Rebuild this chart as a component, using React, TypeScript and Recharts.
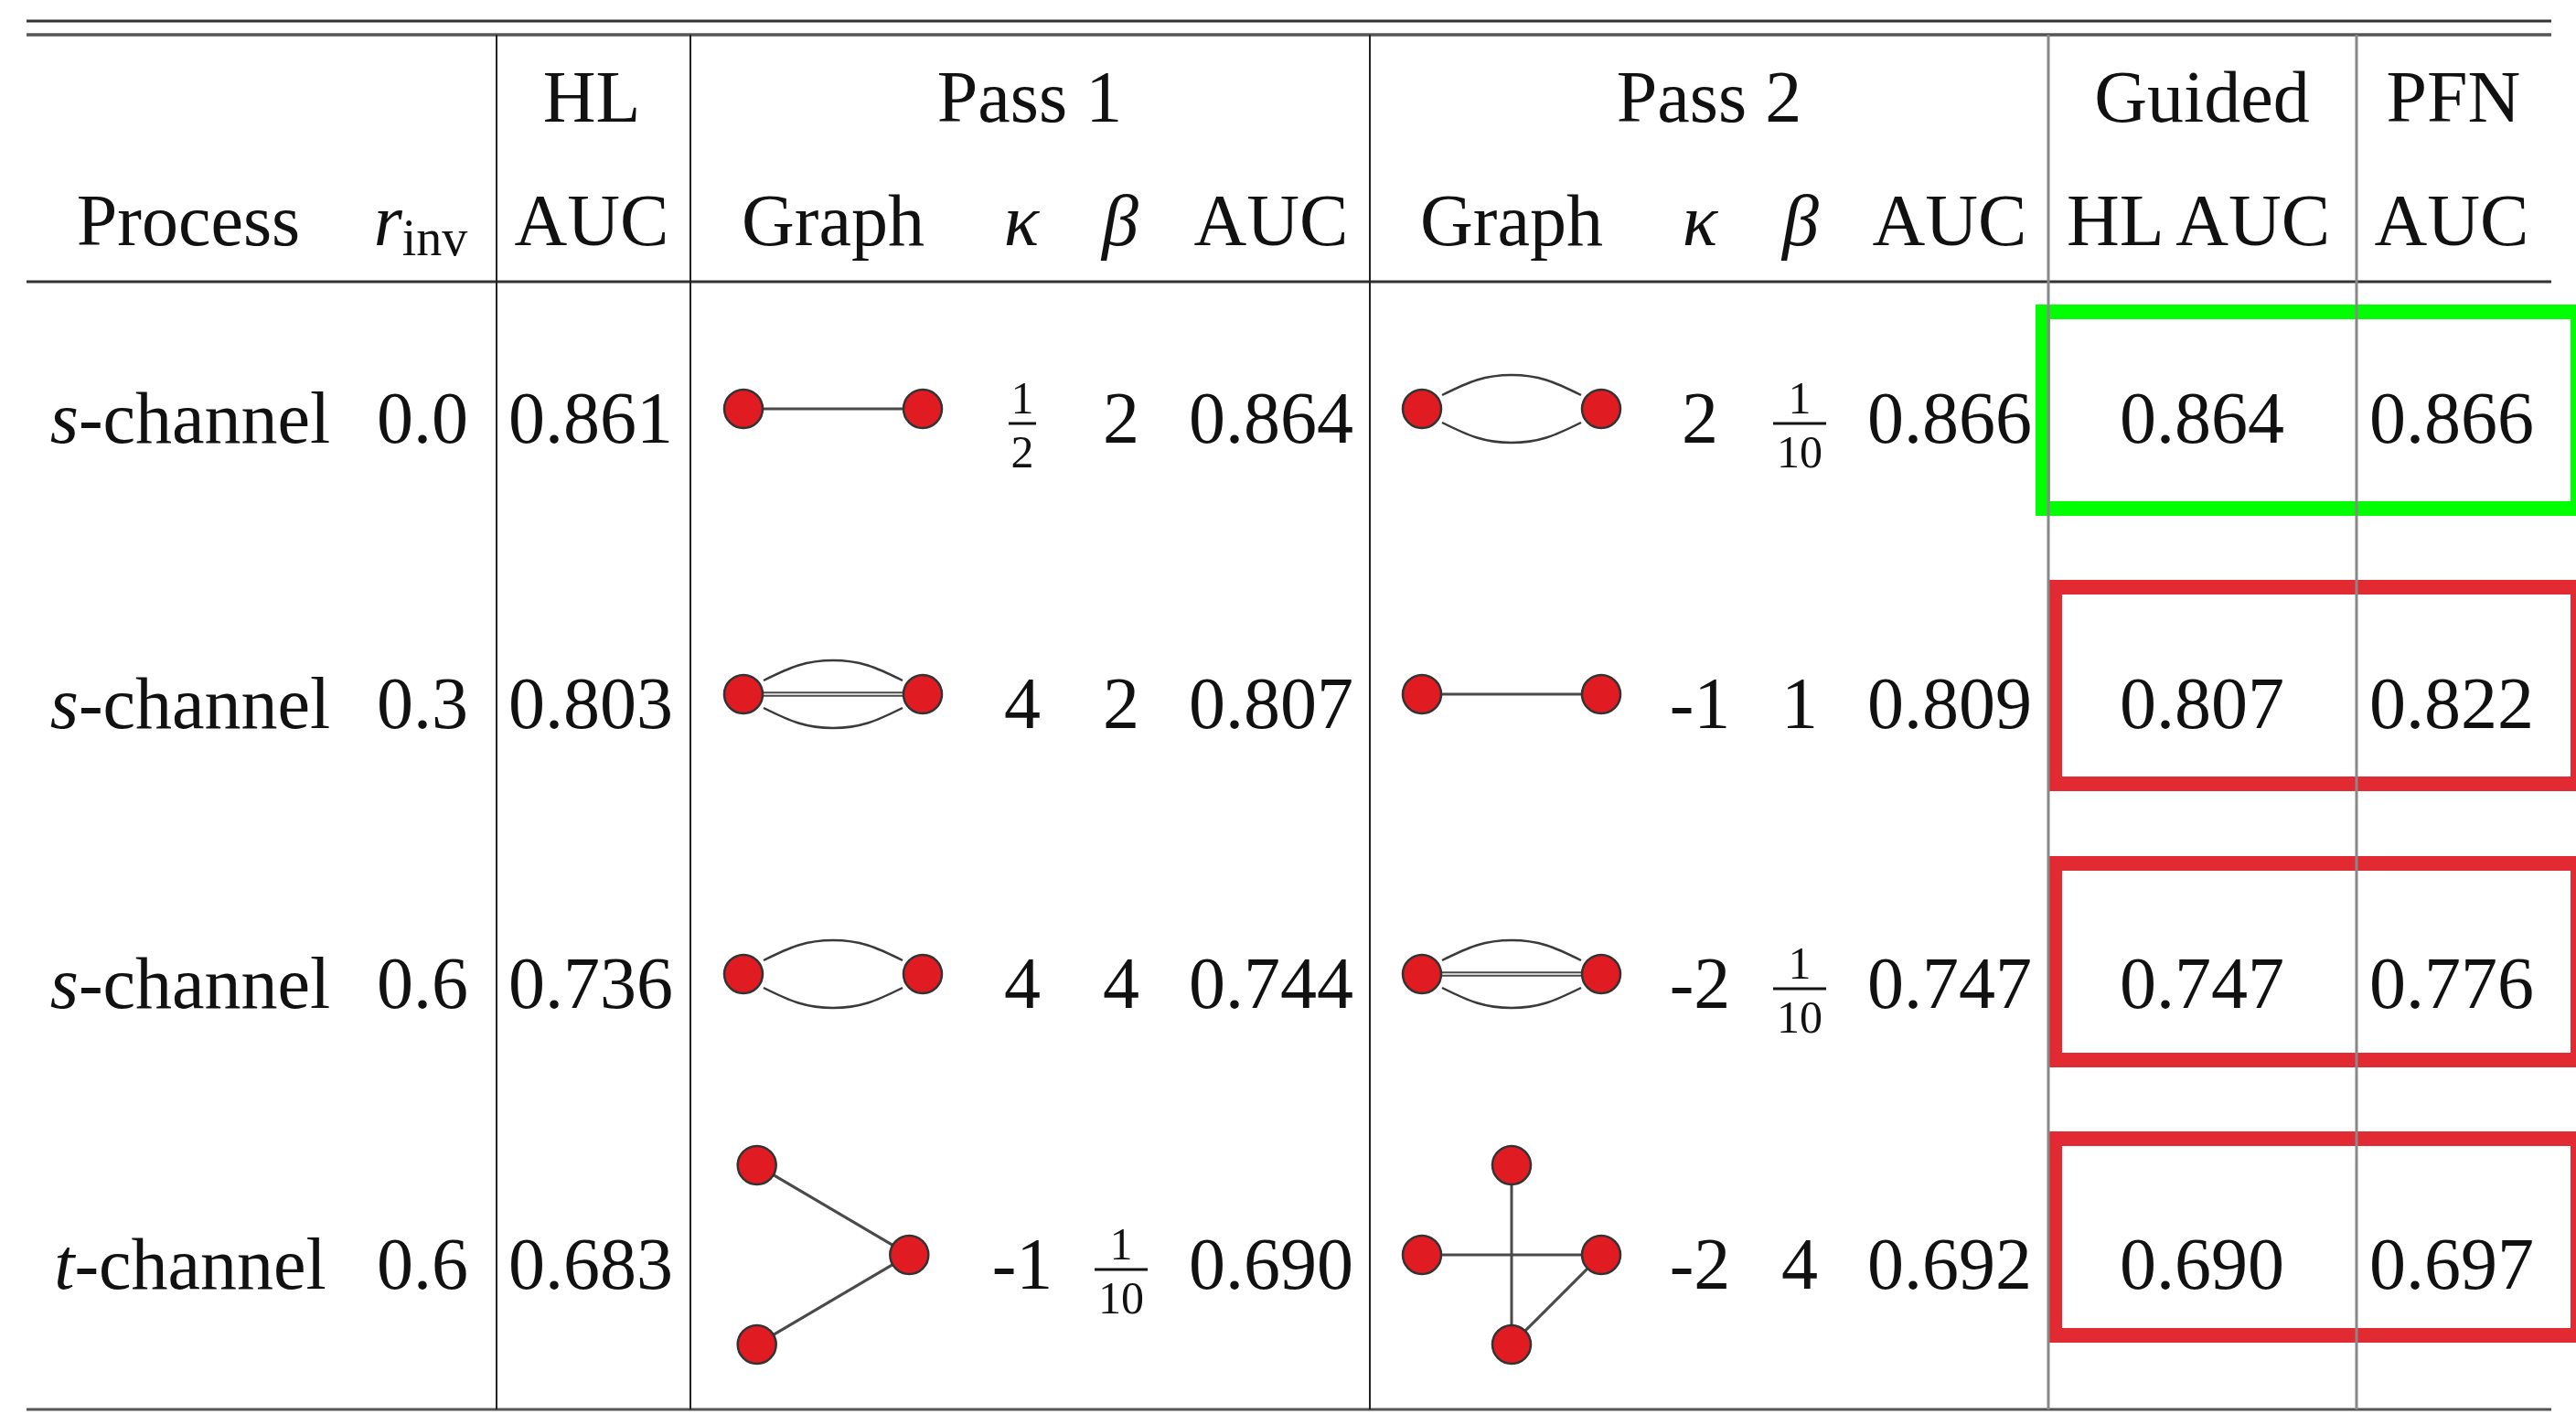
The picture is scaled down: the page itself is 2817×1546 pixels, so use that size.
import React from 'react'
import {
  ComposedChart,
  XAxis,
  YAxis,
  Scatter,
  Line,
  ReferenceLine,
  ReferenceArea,
} from 'recharts'

const W = 2817
const H = 1546
const FONT = '"Liberation Serif", "Times New Roman", serif'

// table content
const groupHeaders = ['HL', 'Pass 1', 'Pass 2', 'Guided', 'PFN']
const columnHeaders = ['Process', 'r_inv', 'AUC', 'Graph', 'κ', 'β', 'AUC', 'Graph', 'κ', 'β', 'AUC', 'HL AUC', 'AUC']
const processes = ['s', 's', 's', 't']
const rInv = ['0.0', '0.3', '0.6', '0.6']
const hlAuc = [0.861, 0.803, 0.736, 0.683]
const pass1Kappa = ['1/2', '4', '4', '-1']
const pass1Beta = ['2', '2', '4', '1/10']
const pass1Auc = [0.864, 0.807, 0.744, 0.69]
const pass2Kappa = ['2', '-1', '-2', '-2']
const pass2Beta = ['1/10', '1', '1/10', '4']
const pass2Auc = [0.866, 0.809, 0.747, 0.692]
const guidedAuc = [0.864, 0.807, 0.747, 0.69]
const pfnAuc = [0.866, 0.822, 0.776, 0.697]
const boxColors = ['#00ff00', '#e22a33', '#e22a33', '#e22a33']

// graphs: node positions in graph units, edges [from, to, kind]
type Edge = [number, number, 'line' | 'double' | 'arcUp' | 'arcDown']
type Graph = { nodes: [number, number][]; edges: Edge[] }
const pass1Graphs: Graph[] = [
  { nodes: [[-1, 0], [1, 0]], edges: [[0, 1, 'line']] },
  { nodes: [[-1, 0], [1, 0]], edges: [[0, 1, 'arcUp'], [0, 1, 'arcDown'], [0, 1, 'double']] },
  { nodes: [[-1, 0], [1, 0]], edges: [[0, 1, 'arcUp'], [0, 1, 'arcDown']] },
  { nodes: [[-0.85, -1], [0.85, 0], [-0.85, 1]], edges: [[0, 1, 'line'], [2, 1, 'line']] },
]
const pass2Graphs: Graph[] = [
  { nodes: [[-1, 0], [1, 0]], edges: [[0, 1, 'arcUp'], [0, 1, 'arcDown']] },
  { nodes: [[-1, 0], [1, 0]], edges: [[0, 1, 'line']] },
  { nodes: [[-1, 0], [1, 0]], edges: [[0, 1, 'arcUp'], [0, 1, 'arcDown'], [0, 1, 'double']] },
  { nodes: [[0, -1], [-1, 0], [1, 0], [0, 1]], edges: [[1, 2, 'line'], [0, 3, 'line'], [2, 3, 'line']] },
]

// layout
const HEAD1 = 133
const HEAD2 = 268
const rowBase = [484, 796, 1102, 1409]
const groupX = [647, 1126, 1869, 2408, 2683]
const colHeadX = [206, 460, 647, 911, 1117, 1225, 1390, 1653, 1859, 1969, 2132, 2404, 2681]
const col = {
  process: 208, rinv: 462, hl: 646, g1: 911, k1: 1118, b1: 1226, a1: 1390,
  g2: 1653, k2: 1859, b2: 1968, a2: 2132, guided: 2408, pfn: 2681,
}
const GRAPH_LIFT = 37
const UNIT = 98
const NODE_R = 21
// arc outline: [distance from node centre, height], mirrored at the far node
const ARC_SHAPE: [number, number][] = [[22, 15], [60, 31.5]]
const ARC_H = 37
const ruleX = [29, 2790]
const rulesH = [
  { y: 23, stroke: '#333', w: 3 },
  { y: 38, stroke: '#555', w: 3.5 },
  { y: 308, stroke: '#333', w: 3 },
  { y: 1541, stroke: '#555', w: 3 },
]
const rulesV = [
  { x: 543, stroke: '#222', w: 2 },
  { x: 755, stroke: '#222', w: 2 },
  { x: 1498, stroke: '#222', w: 2 },
  { x: 2240, stroke: '#888', w: 3 },
  { x: 2577, stroke: '#888', w: 3 },
]
const boxTop = [341, 642, 944, 1245]
const boxLeft = [2234, 2247, 2247, 2247]
const BOX_H = 215

type Cell = { x: number; y: number; text: string; kind: string }
const cells: Cell[] = []
groupHeaders.forEach((t, i) => cells.push({ x: groupX[i], y: HEAD1, text: t, kind: 'plain' }))
columnHeaders.forEach((t, i) =>
  cells.push({
    x: colHeadX[i],
    y: HEAD2,
    text: t,
    kind: t === 'r_inv' ? 'rinv' : t === 'κ' || t === 'β' ? 'italic' : 'plain',
  })
)
const num = (v: string) => (v.includes('/') ? 'frac' : 'plain')
rowBase.forEach((y, i) => {
  cells.push({ x: col.process, y, text: processes[i], kind: 'process' })
  cells.push({ x: col.rinv, y, text: rInv[i], kind: 'plain' })
  cells.push({ x: col.hl, y, text: hlAuc[i].toFixed(3), kind: 'plain' })
  cells.push({ x: col.k1, y, text: pass1Kappa[i], kind: num(pass1Kappa[i]) })
  cells.push({ x: col.b1, y, text: pass1Beta[i], kind: num(pass1Beta[i]) })
  cells.push({ x: col.a1, y, text: pass1Auc[i].toFixed(3), kind: 'plain' })
  cells.push({ x: col.k2, y, text: pass2Kappa[i], kind: num(pass2Kappa[i]) })
  cells.push({ x: col.b2, y, text: pass2Beta[i], kind: num(pass2Beta[i]) })
  cells.push({ x: col.a2, y, text: pass2Auc[i].toFixed(3), kind: 'plain' })
  cells.push({ x: col.guided, y, text: guidedAuc[i].toFixed(3), kind: 'plain' })
  cells.push({ x: col.pfn, y, text: pfnAuc[i].toFixed(3), kind: 'plain' })
})

// graph geometry in chart units
type Pt = { x: number; y: number }
const nodes: Pt[] = []
const segments: { a: Pt; b: Pt; w: number }[] = []
const arcs: Pt[][] = []
const addGraph = (g: Graph, cx: number, cy: number) => {
  const pts = g.nodes.map(([u, v]) => ({ x: cx + u * UNIT, y: cy + v * UNIT }))
  pts.forEach((p) => nodes.push(p))
  g.edges.forEach(([i, j, kind]) => {
    const p = pts[i]
    const q = pts[j]
    const len = Math.hypot(q.x - p.x, q.y - p.y)
    const dx = (q.x - p.x) / len
    const dy = (q.y - p.y) / len
    if (kind === 'arcUp' || kind === 'arcDown') {
      const s = kind === 'arcUp' ? -1 : 1
      arcs.push([
        ...ARC_SHAPE.map(([d, h]) => ({ x: p.x + d, y: p.y + s * h })),
        { x: (p.x + q.x) / 2, y: p.y + s * ARC_H },
        ...ARC_SHAPE.slice().reverse().map(([d, h]) => ({ x: q.x - d, y: q.y + s * h })),
      ])
      return
    }
    const offs = kind === 'double' ? [-1.8, 1.8] : [0]
    offs.forEach((o) =>
      segments.push({
        a: { x: p.x + dx * NODE_R - dy * o, y: p.y + dy * NODE_R + dx * o },
        b: { x: q.x - dx * NODE_R - dy * o, y: q.y - dy * NODE_R + dx * o },
        w: kind === 'double' ? 2 : 3,
      })
    )
  })
}
rowBase.forEach((y, i) => {
  addGraph(pass1Graphs[i], col.g1, y - GRAPH_LIFT)
  addGraph(pass2Graphs[i], col.g2, y - GRAPH_LIFT)
})

const renderCell = (props: any) => {
  const { cx, cy, payload } = props
  const { text, kind } = payload as Cell
  if (kind === 'frac') {
    const [n, d] = text.split('/')
    const barW = d.length > 1 ? 58 : 30
    return (
      <g fontFamily={FONT} fill="#111" textAnchor="middle">
        <text x={cx} y={cy - 32} fontSize={50}>{n}</text>
        <line x1={cx - barW / 2} x2={cx + barW / 2} y1={cy - 21} y2={cy - 21} stroke="#111" strokeWidth={3} />
        <text x={cx} y={cy + 27} fontSize={50}>{d}</text>
      </g>
    )
  }
  let content: React.ReactNode = text
  if (kind === 'process') {
    content = (
      <>
        <tspan fontStyle="italic">{text}</tspan>-channel
      </>
    )
  } else if (kind === 'rinv') {
    content = (
      <>
        <tspan fontStyle="italic">r</tspan>
        <tspan fontSize={56} dy={11}>inv</tspan>
      </>
    )
  } else if (kind === 'italic') {
    content = <tspan fontStyle="italic">{text}</tspan>
  }
  return (
    <text x={cx} y={cy} fontFamily={FONT} fontSize={80} fill="#111" textAnchor="middle">
      {content}
    </text>
  )
}

const renderNode = (props: any) => (
  <circle cx={props.cx} cy={props.cy} r={NODE_R} fill="#e01b22" stroke="#333" strokeWidth={2.5} />
)

function App() {
  return (
    <div style={{ position: 'absolute', left: 0, top: 0, width: W, height: H, background: '#fff' }}>
      <ComposedChart width={W} height={H} margin={{ top: 0, right: 0, bottom: 0, left: 0 }}>
        <XAxis type="number" dataKey="x" domain={[0, W]} allowDataOverflow hide />
        <YAxis type="number" dataKey="y" domain={[0, H]} allowDataOverflow reversed hide />
        {rulesH.map((r, i) => (
          <ReferenceLine
            key={`h${i}`}
            segment={[{ x: ruleX[0], y: r.y }, { x: ruleX[1], y: r.y }]}
            stroke={r.stroke}
            strokeWidth={r.w}
          />
        ))}
        {rulesV.map((r, i) => (
          <ReferenceLine
            key={`v${i}`}
            segment={[{ x: r.x, y: rulesH[1].y }, { x: r.x, y: rulesH[3].y }]}
            stroke={r.stroke}
            strokeWidth={r.w}
          />
        ))}
        {boxColors.map((c, i) => (
          <ReferenceArea
            key={`b${i}`}
            x1={boxLeft[i]}
            x2={W + 2}
            y1={boxTop[i]}
            y2={boxTop[i] + BOX_H}
            fill="none"
            fillOpacity={0}
            stroke={c}
            strokeWidth={16}
            ifOverflow="visible"
          />
        ))}
        {segments.map((s, i) => (
          <ReferenceLine key={`e${i}`} segment={[s.a, s.b]} stroke="#4a4a4a" strokeWidth={s.w} />
        ))}
        {arcs.map((a, i) => (
          <Line
            key={`a${i}`}
            data={a}
            dataKey="y"
            type="natural"
            dot={false}
            activeDot={false}
            stroke="#3a3a3a"
            strokeWidth={2.5}
            isAnimationActive={false}
          />
        ))}
        <Scatter data={nodes} shape={renderNode} isAnimationActive={false} />
        <Scatter data={cells} shape={renderCell} isAnimationActive={false} />
      </ComposedChart>
    </div>
  )
}

export default App
